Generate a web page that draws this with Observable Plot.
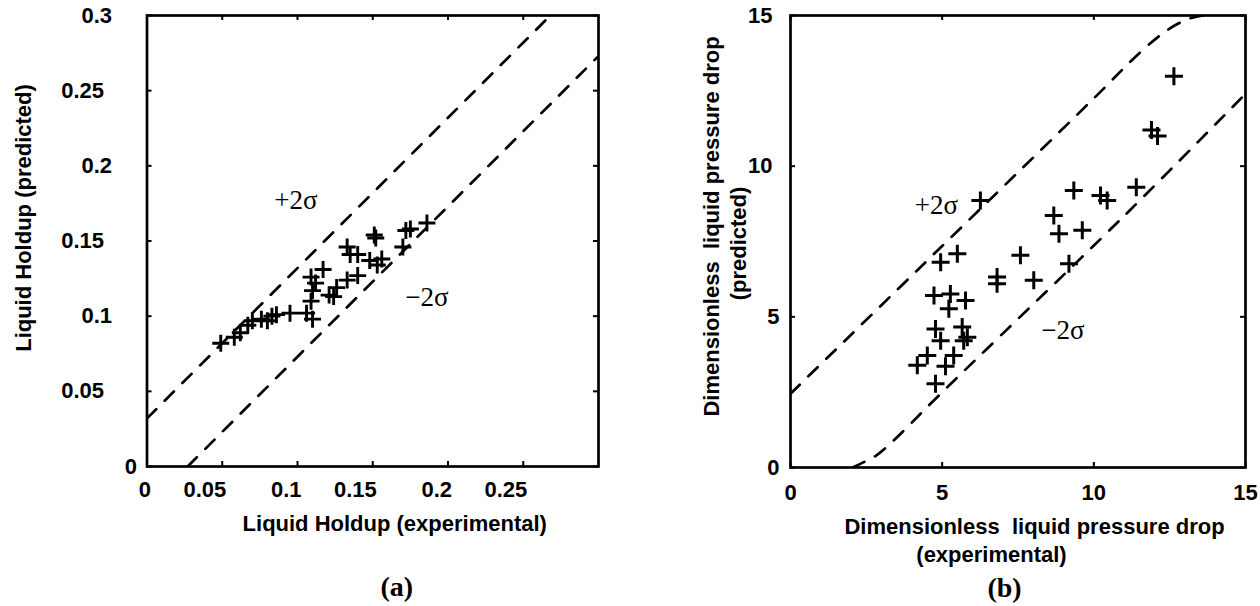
<!DOCTYPE html>
<html>
<head>
<meta charset="utf-8">
<script src="https://cdn.jsdelivr.net/npm/d3@7"></script>
<script src="https://cdn.jsdelivr.net/npm/@observablehq/plot@0.6"></script>
<style>
  html, body { margin: 0; padding: 0; background: #fff; }
  #wrap { position: relative; width: 1260px; height: 606px; overflow: hidden; }
  #left, #right { position: absolute; top: 0; }
  #left { left: 0; }
  #right { left: 630px; }
</style>
</head>
<body>
<div id="wrap"><div id="left"></div><div id="right"></div></div>
<script>
// ---- Panel (a): liquid holdup ----
const holdupExp  = [0.049,0.058,0.062,0.067,0.070,0.076,0.080,0.083,0.086,0.095,0.106,0.110,0.109,0.110,0.109,0.112,0.117,0.121,0.124,0.126,0.133,0.140,0.133,0.135,0.140,0.148,0.151,0.152,0.153,0.156,0.170,0.172,0.175,0.186];
const holdupPred = [0.082,0.086,0.089,0.094,0.097,0.098,0.097,0.100,0.101,0.102,0.102,0.098,0.110,0.117,0.126,0.122,0.131,0.114,0.113,0.119,0.124,0.127,0.146,0.141,0.141,0.137,0.154,0.152,0.134,0.138,0.146,0.157,0.158,0.162];
const holdupUpperX = [0, 0.268];
const holdupUpperY = [0.032, 0.3];
const holdupLowerX = [0.027, 0.3];
const holdupLowerY = [0, 0.273];
const holdupXTicks = [0, 0.05, 0.1, 0.15, 0.2, 0.25];
const holdupYTicks = [0, 0.05, 0.1, 0.15, 0.2, 0.25, 0.3];
const holdupYLabelsShort = [0.1, 0.2, 0.3];
const holdupYLabelsLong = [0.05, 0.15, 0.25];
const holdupYLabelsZero = [0];
const holdupPlusLabel = {x: 0.099, y: 0.177, text: "+2σ"};
const holdupMinusLabel = {x: 0.186, y: 0.1125, text: "\u22122σ"};

// ---- Panel (b): dimensionless liquid pressure drop ----
const dpExp  = [4.18,4.51,4.78,5.11,5.38,4.95,5.71,4.78,5.66,5.83,5.22,4.73,5.27,5.77,4.95,5.50,6.26,6.81,6.81,7.58,8.02,8.68,8.85,9.62,9.18,9.34,10.22,10.44,11.40,11.90,12.10,12.64];
const dpPred = [3.39,3.72,2.78,3.36,3.72,4.21,4.21,4.60,4.66,4.32,5.27,5.71,5.76,5.54,6.81,7.09,8.86,6.32,6.10,7.04,6.21,8.36,7.76,7.87,6.76,9.19,9.03,8.86,9.30,11.20,11.00,12.98];
const dpUpperX = [0, 5, 10, 11.5, 12.4, 13.1, 13.6];
const dpUpperY = [2.45, 7.35, 12.25, 13.75, 14.5, 14.88, 15.0];
const dpLowerX = [2.05, 2.4, 2.8, 3.3, 4.9, 11.0, 15.0];
const dpLowerY = [0, 0.17, 0.38, 0.8, 2.4, 8.35, 12.4];
const dpTicks = [0, 5, 10, 15];
const dpYLabelsWide = [10, 15];
const dpYLabelsNarrow = [0, 5];
const dpPlusLabel = {x: 4.81, y: 8.70, text: "+2σ"};
const dpMinusLabel = {x: 8.98, y: 4.55, text: "\u22122σ"};

const zip = (xs, ys) => xs.map((x, i) => ({x, y: ys[i]}));

const plusSym = {
  draw(ctx, size) {
    const r = Math.sqrt(size / Math.PI);
    ctx.moveTo(-r, 0); ctx.lineTo(r, 0);
    ctx.moveTo(0, -r); ctx.lineTo(0, r);
  }
};

const SANS = "'Liberation Sans', Arial, Helvetica, sans-serif";
const SERIF = "'Liberation Serif', 'Times New Roman', serif";
const TICKFONT = {fontSize: 22, fontWeight: "bold", fontFamily: SANS};
const TITLEFONT = {fontSize: 22, fontWeight: "bold", fontFamily: SANS, lineAnchor: "middle", textAnchor: "middle"};
const DASH = "13,12";

function frameTicks(xTicks, yTicks, fw, fh, len) {
  return [
    Plot.tickX(xTicks, {x: d => d, insetTop: fh - len, strokeWidth: 2}),
    Plot.tickX(xTicks, {x: d => d, insetBottom: fh - len, strokeWidth: 2}),
    Plot.tickY(yTicks, {y: d => d, insetRight: fw - len, strokeWidth: 2}),
    Plot.tickY(yTicks, {y: d => d, insetLeft: fw - len, strokeWidth: 2})
  ];
}

// Panel (a)
{
  const W = 630, H = 606, mL = 146.5, mR = 32, mT = 15, mB = 140;
  const fw = W - mL - mR, fh = H - mT - mB;
  const pts = zip(holdupExp, holdupPred);
  const chart = Plot.plot({
    width: W, height: H,
    marginLeft: mL, marginRight: mR, marginTop: mT, marginBottom: mB,
    x: {domain: [0, 0.3]},
    y: {domain: [0, 0.3]},
    style: {fontFamily: SANS, fontWeight: "bold", fontSize: "20px", color: "black", background: "white", overflow: "visible"},
    marks: [
      Plot.line(zip(holdupUpperX, holdupUpperY), {x: "x", y: "y", stroke: "black", strokeWidth: 2.7, strokeDasharray: DASH, clip: true}),
      Plot.line(zip(holdupLowerX, holdupLowerY), {x: "x", y: "y", stroke: "black", strokeWidth: 2.7, strokeDasharray: DASH, clip: true}),
      Plot.dot(pts, {x: "x", y: "y", symbol: plusSym, r: 8.5, stroke: "black", strokeWidth: 2.9, fill: "none"}),
      ...frameTicks(holdupXTicks, holdupYTicks, fw, fh, 5),
      Plot.frame({stroke: "black", strokeWidth: 2.7}),
      Plot.axisX({ticks: holdupXTicks, tickSize: 0, tickPadding: 15, textAnchor: "end", dx: 4, tickFormat: d => String(d), label: null, ...TICKFONT}),
      Plot.axisY({ticks: holdupYLabelsShort, tickSize: 0, tickPadding: 35, tickFormat: d => String(d), label: null, ...TICKFONT}),
      Plot.axisY({ticks: holdupYLabelsLong, tickSize: 0, tickPadding: 43, tickFormat: d => String(d), label: null, ...TICKFONT}),
      Plot.axisY({ticks: holdupYLabelsZero, tickSize: 0, tickPadding: 10, tickFormat: d => String(d), label: null, ...TICKFONT}),
      Plot.text([holdupPlusLabel, holdupMinusLabel], {x: "x", y: "y", text: "text", fontFamily: SERIF, fontWeight: "normal", fontSize: 27}),
      Plot.text(["Liquid Holdup (experimental)"], {frameAnchor: "bottom", dx: 22, dy: 57, ...TITLEFONT}),
      Plot.text(["Liquid Holdup (predicted)"], {frameAnchor: "left", dx: -123.5, dy: -23, rotate: -90, ...TITLEFONT}),
      Plot.text(["(a)"], {frameAnchor: "bottom", lineAnchor: "middle", textAnchor: "middle", dx: 24, dy: 121, fontFamily: SERIF, fontWeight: "bold", fontSize: 28})
    ]
  });
  document.getElementById("left").appendChild(chart);
}

// Panel (b)
{
  const W = 630, H = 606, mL = 160, mR = 15, mT = 15, mB = 139;
  const fw = W - mL - mR, fh = H - mT - mB;
  const pts = zip(dpExp, dpPred);
  const chart = Plot.plot({
    width: W, height: H,
    marginLeft: mL, marginRight: mR, marginTop: mT, marginBottom: mB,
    x: {domain: [0, 15]},
    y: {domain: [0, 15]},
    style: {fontFamily: SANS, fontWeight: "bold", fontSize: "20px", color: "black", background: "white", overflow: "visible"},
    marks: [
      Plot.line(zip(dpUpperX, dpUpperY), {x: "x", y: "y", curve: "catmull-rom", stroke: "black", strokeWidth: 2.7, strokeDasharray: DASH, clip: true}),
      Plot.line(zip(dpLowerX, dpLowerY), {x: "x", y: "y", curve: "catmull-rom", stroke: "black", strokeWidth: 2.7, strokeDasharray: DASH, clip: true}),
      Plot.dot(pts, {x: "x", y: "y", symbol: plusSym, r: 9, stroke: "black", strokeWidth: 3, fill: "none"}),
      ...frameTicks(dpTicks, dpTicks, fw, fh, 5),
      Plot.frame({stroke: "black", strokeWidth: 2.7}),
      Plot.axisX({ticks: dpTicks, tickSize: 0, tickPadding: 17, tickFormat: d => String(d), label: null, ...TICKFONT}),
      Plot.axisY({ticks: dpYLabelsWide, tickSize: 0, tickPadding: 18, tickFormat: d => String(d), label: null, ...TICKFONT}),
      Plot.axisY({ticks: dpYLabelsNarrow, tickSize: 0, tickPadding: 11, tickFormat: d => String(d), label: null, ...TICKFONT}),
      Plot.text([dpPlusLabel, dpMinusLabel], {x: "x", y: "y", text: "text", fontFamily: SERIF, fontWeight: "normal", fontSize: 27}),
      Plot.text(["Dimensionless  liquid pressure drop"], {frameAnchor: "bottom", dx: 16.5, dy: 59, ...TITLEFONT}),
      Plot.text(["(experimental)"], {frameAnchor: "bottom", dx: -26.5, dy: 87, ...TITLEFONT}),
      Plot.text(["Dimensionless  liquid pressure drop"], {frameAnchor: "left", dx: -79, dy: -15, rotate: -90, ...TITLEFONT}),
      Plot.text(["(predicted)"], {frameAnchor: "left", dx: -52, dy: 2, rotate: -90, ...TITLEFONT}),
      Plot.text(["(b)"], {frameAnchor: "bottom", lineAnchor: "middle", textAnchor: "middle", dx: -13.5, dy: 121, fontFamily: SERIF, fontWeight: "bold", fontSize: 28})
    ]
  });
  document.getElementById("right").appendChild(chart);
}
</script>
</body>
</html>
